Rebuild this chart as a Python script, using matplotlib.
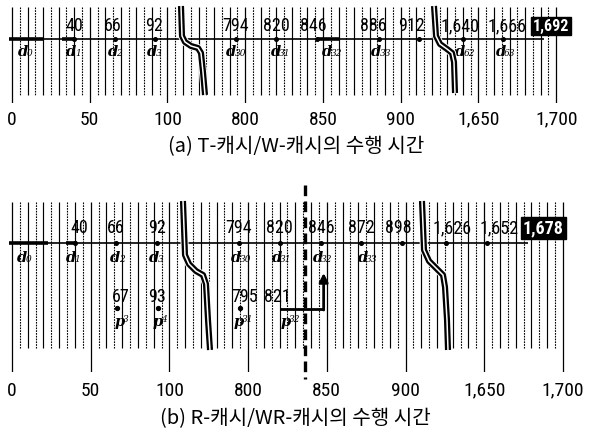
import numpy as np
import matplotlib
matplotlib.use('Agg')
import matplotlib.pyplot as plt
from matplotlib.ticker import NullLocator
from matplotlib import font_manager as fm

# pick the narrowest installed sans family for numbers
_avail = {f.name for f in fm.fontManager.ttflist}
_cands = ['Liberation Sans Narrow', 'Roboto Condensed', 'Open Sans Condensed',
          'DejaVu Sans Condensed', 'Liberation Sans']
NUM_FONT = [c for c in _cands if c in _avail][:1] + ['DejaVu Sans']
plt.rcParams['font.family'] = NUM_FONT

# ---------------- data ----------------
major_vals = [0, 50, 100, 800, 850, 900, 1650, 1700]
major_labels = ['0', '50', '100', '800', '850', '900', '1,650', '1,700']
segments = [(0, 120), (775, 920), (1625, 1700)]   # visible time ranges
grid_step = 5

a_times = [40, 66, 92, 794, 820, 846, 886, 912, 1640, 1666, 1692]
a_labels = ['40', '66', '92', '794', '820', '846', '886', '912', '1,640', '1,666', '1,692']
a_d_times = [0, 40, 66, 92, 794, 820, 846, 886, 1640, 1666]
a_d_idx = ['0', '1', '2', '3', '30', '31', '32', '33', '62', '63']
a_bars = [(-2, 20), (32, 40), (847, 861)]

b_times = [40, 66, 92, 794, 820, 846, 872, 898, 1626, 1652, 1678]
b_labels = ['40', '66', '92', '794', '820', '846', '872', '898', '1,626', '1,652', '1,678']
b_d_times = [0, 40, 66, 92, 794, 820, 846, 872]
b_d_idx = ['0', '1', '2', '3', '30', '31', '32', '33']
b_bars = [(-2, 23), (34, 41)]
p_times = [67, 93, 795, 821]
p_labels = ['67', '93', '795', '821']
p_idx = ['3', '4', '31', '32']
p_dot_times = [67, 93, 795]
p_link = (821, 848)        # p32 -> d32
b_cut_time = 836

captions = ['(a) T-캐시/W-캐시의 수행 시간', '(b) R-캐시/WR-캐시의 수행 시간']

# ---------------- broken time axis as a function scale ----------------
def fwd(v):
    v = np.asarray(v, dtype=float)
    return np.where(v <= 125, v, np.where(v < 775, 125.0,
           np.where(v <= 925, v - 650, np.where(v < 1625, 275.0, v - 1350))))

def inv(u):
    u = np.asarray(u, dtype=float)
    return np.where(u <= 125, u, np.where(u <= 275, u + 650, u + 1350))

W, H = 592, 434
PT = 72 / 100.0  # px -> pt
fig = plt.figure(figsize=(W / 100, H / 100), dpi=100)

SERIF = 'DejaVu Serif'
NUMKW = dict(family=NUM_FONT, fontstretch='condensed')

grid_vals = np.concatenate([np.arange(s, e + 1, grid_step) for s, e in segments])
solid = [g for g in grid_vals if g % 10 == 0 and g not in major_vals]
dotted = [g for g in grid_vals if g % 10 != 0]


def make_ax(top, bottom, x0px, pxu, pad):
    ax = fig.add_axes([0, 1 - bottom / H, 1, (bottom - top) / H])
    ax.set_xscale('function', functions=(fwd, inv))
    ax.set_xlim(float(inv(-x0px / pxu)), float(inv((W - x0px) / pxu)))
    ax.set_ylim(bottom, top)
    ax.patch.set_visible(False)
    for s in ax.spines.values():
        s.set_visible(False)
    ax.set_yticks([])
    ax.set_xticks(major_vals)
    ax.set_xticklabels(major_labels, **NUMKW)
    ax.xaxis.set_minor_locator(NullLocator())
    ax.tick_params(axis='x', length=0, labelsize=14, pad=pad)
    return ax


def draw_panel(ax, top, minor_bot, major_bot, yline, times, labels, lab_dx,
               ylab, d_times, d_idx, d_dx, yd, bars, boxsize):
    ax.vlines(solid, top, minor_bot, colors='k', lw=0.85)
    ax.vlines(dotted, top, minor_bot, colors='k', lw=0.8, linestyles=[(0, (1.5, 1.0))])
    ax.vlines(major_vals, top, major_bot, colors='k', lw=0.9)
    ax.hlines(yline, -2, times[-1], colors='k', lw=1.2)
    for s, e in bars:
        ax.hlines(yline, s, e, colors='k', lw=2.6)
    ax.plot(times[:-1], [yline] * (len(times) - 1), ls='none', marker='o', ms=2.6, color='k')
    for i, (t, lab) in enumerate(zip(times, labels)):
        last = i == len(times) - 1
        kw = dict(textcoords='offset points', ha='center', va='center',
                  fontsize=13 if not last else boxsize, clip_on=False, **NUMKW)
        if last:
            kw.update(color='white', fontweight='bold',
                      bbox=dict(boxstyle='square,pad=0.12', fc='black', ec='black'))
        ax.annotate(lab, (t, ylab), xytext=(lab_dx[i] * PT, 0), **kw)
    for t, n, dx in zip(d_times, d_idx, d_dx):
        w = 8 + 4 * len(n)
        left = dx - w / 2
        ax.annotate('d', (t, yd), xytext=(left * PT, 0), textcoords='offset points',
                    ha='left', va='center', family=SERIF, fontweight='bold',
                    style='italic', fontsize=10.5)
        ax.annotate(n, (t, yd), xytext=((left + 8.8) * PT, -1.5 * PT), textcoords='offset points',
                    ha='left', va='center', family=SERIF, style='italic', fontsize=6.5)


# ---------------- panel (a) ----------------
ax_a = make_ax(0, 103, 12, 1.555, 5.5)
draw_panel(ax_a, 7, 95, 103, 39, a_times, a_labels,
           [0, -2, -1, 0, 0, -3, -6, -8, -3, 4, 7], 26,
           a_d_times, a_d_idx, [12, -2, -1, -2, -2, 2, 13, 0, 0, 0], 52, a_bars, 11.5)

# ---------------- panel (b) ----------------
ax_b = make_ax(180, 372, 12, 1.574, 7)
draw_panel(ax_b, 202, 348, 372, 243, b_times, b_labels,
           [4, 0, 0, 0, 0, 1, 0, -4, 6, 12, 15], 228,
           b_d_times, b_d_idx, [11, -3, 0, -2, 0, 0, 0, 4], 258, b_bars, 13)

ax_b.plot(p_dot_times, [308] * len(p_dot_times), ls='none', marker='o', ms=2.8, color='k')
for t, lab, dx in zip(p_times, p_labels, [3, -1, 4, -4]):
    ax_b.annotate(lab, (t, 297), xytext=(dx * PT, 0), textcoords='offset points',
                  ha='center', va='center', fontsize=13, **NUMKW)
for t, n, dx in zip(p_times, p_idx, [3, 0, 1, 7]):
    w = 8 + 4 * len(n)
    left = dx - w / 2
    ax_b.annotate('p', (t, 322), xytext=(left * PT, 0), textcoords='offset points',
                  ha='left', va='center', family=SERIF, fontweight='bold',
                  style='italic', fontsize=10.5)
    ax_b.annotate(n, (t, 322), xytext=((left + 8.8) * PT, 3 * PT), textcoords='offset points',
                  ha='left', va='center', family=SERIF, style='italic', fontsize=6.5)

# forwarding arrow p32 -> d32
ax_b.plot([p_link[0] - 1, p_link[1]], [309, 309], color='k', lw=2.0, solid_capstyle='butt')
ax_b.annotate('', xy=(p_link[1], 273), xytext=(p_link[1], 310),
              arrowprops=dict(arrowstyle='-|>', lw=2.0, color='k', mutation_scale=13,
                              shrinkA=0, shrinkB=0))
# dashed cut line
ax_b.vlines(b_cut_time, 185, 379, colors='k', lw=2.4, linestyles=[(0, (3.2, 1.6))],
            clip_on=False, zorder=4)

# ---------------- axis-break marks (decoration, pixel coords) ----------------
ov = fig.add_axes([0, 0, 1, 1], zorder=5)
ov.set_xlim(0, W)
ov.set_ylim(H, 0)
ov.axis('off')
breaks = [
    [(181, 6), (182, 36), (185, 42), (191, 46), (198, 48), (201, 53), (203, 72), (205, 95)],
    [(434, 6), (436, 36), (440, 44), (447, 49), (452, 53), (454, 62), (455, 93)],
    [(183, 201), (185, 255), (189, 264), (196, 271), (203, 275), (206, 284), (208, 320), (210, 350)],
    [(422, 201), (424, 250), (429, 261), (437, 269), (443, 275), (445, 287), (447, 320), (448, 350)],
]
for path in breaks:
    xs, ys = zip(*path)
    ov.plot(xs, ys, color='white', lw=5.8, solid_capstyle='butt', solid_joinstyle='round')
    ov.plot(xs, ys, color='black', lw=4.4, solid_capstyle='butt', solid_joinstyle='round')
    ov.plot(xs, ys, color='white', lw=1.1, solid_capstyle='butt', solid_joinstyle='round')

# ---------------- captions ----------------
CJK = ['Noto Sans CJK KR', 'DejaVu Sans']
fig.text(296 / W, 1 - 147 / H, captions[0], ha='center', va='center', family=CJK, fontsize=14.5)
fig.text(295 / W, 1 - 419 / H, captions[1], ha='center', va='center', family=CJK, fontsize=14.5)

fig.savefig('out.png', dpi=100)
